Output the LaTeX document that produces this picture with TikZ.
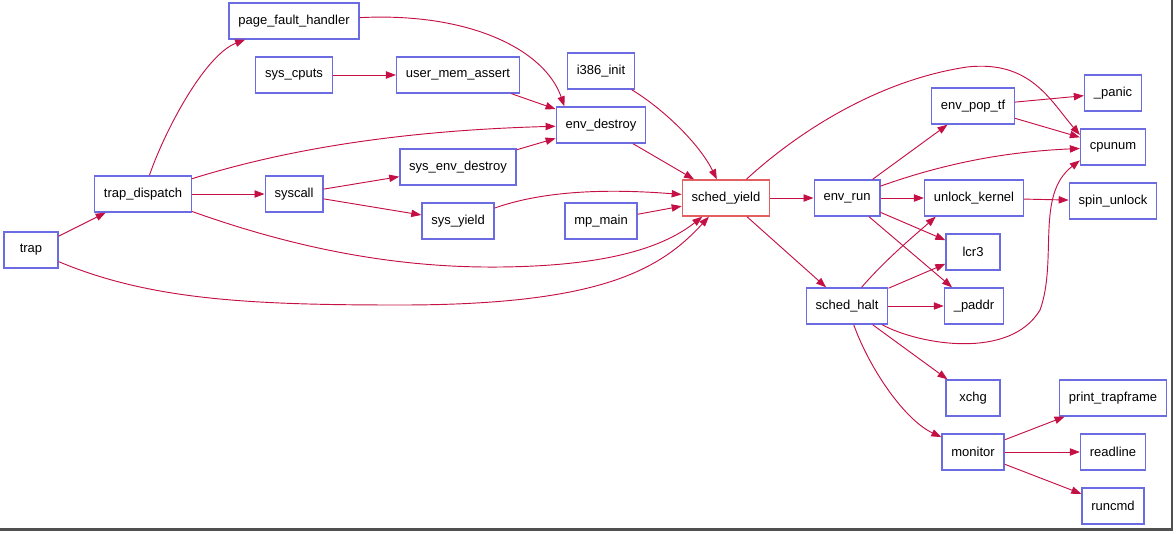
\documentclass[tikz,border=0pt]{standalone}
\usepackage{fontspec}
\setmainfont{Liberation Sans}
\usetikzlibrary{arrows.meta}
\definecolor{nodeblue}{RGB}{108,108,226}
\definecolor{nodered}{RGB}{228,96,96}
\definecolor{edgered}{RGB}{196,16,68}
\definecolor{framegray}{RGB}{80,80,80}

\begin{document}
\begin{tikzpicture}[x=0.75pt, y=-0.75pt,
  fn/.style={draw=nodeblue, line width=1pt, fill=white, minimum height=27pt,
             minimum width=40.5pt, inner xsep=7pt, font=\fontsize{9.75}{11.7}\selectfont},
  curfn/.style={fn, draw=nodered},
  arr/.style={-{Triangle[length=7.5pt,width=5.5pt]}, edgered, line width=0.7pt}
]
\useasboundingbox (0,0) rectangle (1176,533);
\draw[framegray, line width=1.6pt] (0,529.5) -- (1172,529.5) -- (1172,0);

% callers, left part
\node[fn] (trap)      at (31,250)  {trap};
\node[fn] (dispatch)  at (143,194) {trap\_dispatch};
\node[fn] (pgfault)   at (294,21)  {page\_fault\_handler};
\node[fn] (cputs)     at (294,75)  {sys\_cputs};
\node[fn] (syscall)   at (294,194) {syscall};
\node[fn] (memassert) at (458,75)  {user\_mem\_assert};
\node[fn] (sysdestroy) at (458,167) {sys\_env\_destroy};
\node[fn] (sysyield)  at (458,221) {sys\_yield};
\node[fn] (i386init)  at (601,71)  {i386\_init};
\node[fn] (destroy)   at (601,125) {env\_destroy};
\node[fn] (mpmain)    at (601,221) {mp\_main};
\node[curfn] (yield)  at (726,198) {sched\_yield};

% callees, right part
\node[fn] (envrun)  at (847,198)  {env\_run};
\node[fn] (halt)    at (847,306)  {sched\_halt};
\node[fn] (poptf)   at (973,106)  {env\_pop\_tf};
\node[fn] (unlock)  at (974,198)  {unlock\_kernel};
\node[fn] (lcr)     at (973,252)  {lcr3};
\node[fn] (paddr)   at (974,306)  {\_paddr};
\node[fn] (xchg)    at (973,398)  {xchg};
\node[fn] (monitor) at (973,452)  {monitor};
\node[fn] (panic)   at (1113,93)  {\_panic};
\node[fn] (cpunum)  at (1113,147) {cpunum};
\node[fn] (spin)    at (1113,201) {spin\_unlock};
\node[fn] (ptf)     at (1113,398) {print\_trapframe};
\node[fn] (readline) at (1113,452) {readline};
\node[fn] (runcmd)  at (1113,506) {runcmd};

\draw[arr] (trap) -- (dispatch);
\draw[arr] (trap) .. controls (150,300) and (250,305) .. (400,305)
                  .. controls (600,305) and (660,270) .. (yield);
\draw[arr] (dispatch) .. controls (165,130) and (205,55) .. (pgfault);
\draw[arr] (dispatch) -- (syscall);
\draw[arr] (dispatch) .. controls (300,145) and (420,130) .. (destroy);
\draw[arr] (dispatch) .. controls (300,250) and (400,268) .. (500,267)
                      .. controls (600,266) and (660,250) .. (yield);
\draw[arr] (syscall) -- (sysdestroy);
\draw[arr] (syscall) -- (sysyield);
\draw[arr] (cputs) -- (memassert);
\draw[arr] (memassert) -- (destroy);
\draw[arr] (pgfault) .. controls (470,12) and (545,50) .. (destroy.153);
\draw[arr] (sysdestroy) -- (destroy);
\draw[arr] (destroy) -- (yield);
\draw[arr] (i386init) .. controls (665,110) and (700,145) .. (yield);
\draw[arr] (sysyield) .. controls (540,192) and (600,188) .. (yield);
\draw[arr] (mpmain) -- (yield);

\draw[arr] (yield) -- (envrun);
\draw[arr] (yield) -- (halt);
\draw[arr] (yield) .. controls (800,130) and (880,80) .. (967,67)
                   .. controls (1030,60) and (1050,100) .. (cpunum.160);
\draw[arr] (envrun) -- (poptf);
\draw[arr] (envrun) .. controls (940,165) and (1000,152) .. (cpunum);
\draw[arr] (envrun) -- (unlock);
\draw[arr] (envrun) -- (lcr);
\draw[arr] (envrun) -- (paddr);
\draw[arr] (poptf) -- (panic);
\draw[arr] (poptf) -- (cpunum);
\draw[arr] (unlock) -- (spin);
\draw[arr] (halt.52) .. controls (885,260) and (915,235) .. (unlock.206);
\draw[arr] (halt) -- (lcr);
\draw[arr] (halt) -- (paddr);
\draw[arr] (halt) .. controls (920,345) and (1010,360) .. (1040,310)
                  .. controls (1058,260) and (1035,195) .. (cpunum.202);
\draw[arr] (halt) -- (xchg);
\draw[arr] (halt) .. controls (870,370) and (905,420) .. (monitor);
\draw[arr] (monitor) -- (ptf);
\draw[arr] (monitor) -- (readline);
\draw[arr] (monitor) -- (runcmd);
\end{tikzpicture}
\end{document}
